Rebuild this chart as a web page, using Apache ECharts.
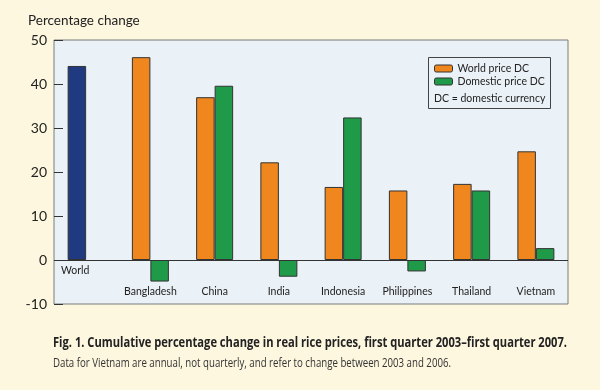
<!DOCTYPE html>
<html><head><meta charset="utf-8">
<script src="https://cdn.jsdelivr.net/npm/echarts@6/dist/echarts.min.js"></script>
<style>html,body{margin:0;padding:0;background:#fdf7df;}#c{width:600px;height:390px;}</style>
</head><body><div id="c"></div>
<script>
const categories = ['World','Bangladesh','China','India','Indonesia','Philippines','Thailand','Vietnam'];
const worldPrice = [44.1, 46.1, 37.0, 22.2, 16.6, 15.8, 17.3, 24.7];
const domesticPrice = [null, -4.9, 39.6, -3.8, 32.4, -2.6, 15.8, 2.7];
const yTicks = [-10, 0, 10, 20, 30, 40, 50];
const seriesNames = ['World price DC', 'Domestic price DC'];
const legendNote = 'DC = domestic currency';
const yAxisName = 'Percentage change';
const captionTitle = 'Fig. 1. Cumulative percentage change in real rice prices, first quarter 2003\u2013first quarter 2007.';
const captionNote = 'Data for Vietnam are annual, not quarterly, and refer to change between 2003 and 2006.';

const ORANGE = '#f0861e', GREEN = '#1f9a48', BLUE = '#1f3a80';
const labelFont = 'Lato, "Open Sans", sans-serif';
const capFont = '"Open Sans", "Noto Sans", sans-serif';

const titleFont = 'bold 15px ' + capFont;
const noteFont = '13px ' + capFont;
const ctx = document.createElement('canvas').getContext('2d');
function fitScale(text, font, target) { ctx.font = font; return target / ctx.measureText(text).width; }
const titleScale = fitScale(captionTitle, titleFont, 514);
const noteScale = fitScale(captionNote, noteFont, 398);

const chart = echarts.init(document.getElementById('c'));
chart.setOption({
  backgroundColor: '#fdf7df',
  animation: false,
  grid: { left: 54, right: 32, top: 40, bottom: 86, show: true, backgroundColor: '#eaf1f7', borderColor: '#7a7a7a', borderWidth: 1 },
  legend: {
    data: seriesNames, orient: 'vertical', left: 434, top: 63, itemWidth: 18, itemHeight: 7, itemGap: 2,
    padding: 0, textStyle: { fontFamily: labelFont, fontSize: 10.5, color: '#222' },
    itemStyle: { borderColor: '#333', borderWidth: 1 }
  },
  graphic: [
    { type: 'rect', shape: { x: 428.5, y: 57.5, width: 122, height: 51 }, style: { fill: 'none', stroke: '#444', lineWidth: 1 }, z: 10 },
    { type: 'text', x: 434, y: 93, style: { text: legendNote, font: '10.5px ' + labelFont, fill: '#222' }, z: 10 },
    { type: 'text', x: 53, y: 343, scaleX: titleScale, style: { text: captionTitle, font: titleFont, fill: '#222', textVerticalAlign: 'middle' } },
    { type: 'text', x: 53, y: 363, scaleX: noteScale, style: { text: captionNote, font: noteFont, fill: '#333', textVerticalAlign: 'middle' } }
  ],
  xAxis: {
    type: 'category', data: categories,
    axisLine: { show: false }, axisTick: { show: false },
    axisLabel: {
      inside: true, margin: 7, interval: 0, fontFamily: labelFont, fontSize: 10.5, color: '#222',
      formatter: v => v === 'World' ? '{w|' + v + '}' : v,
      rich: { w: { fontFamily: labelFont, fontSize: 10.5, color: '#222', padding: [0, 22, 21, 0] } }
    }
  },
  yAxis: {
    type: 'value', min: -10, max: 50, interval: 10,
    name: yAxisName, nameLocation: 'end', nameGap: 0,
    nameTextStyle: { fontFamily: labelFont, fontSize: 13.5, color: '#222', align: 'left', padding: [0, 0, 12, -26] },
    axisLine: { show: false },
    axisTick: { show: true, inside: true, length: 9, lineStyle: { color: '#333' } },
    splitLine: { show: false },
    axisLabel: { fontFamily: labelFont, fontSize: 14, color: '#222', margin: 7, formatter: v => yTicks.includes(v) ? String(v) : '' }
  },
  series: [
    { name: seriesNames[0], type: 'bar', barWidth: 18.5, barGap: '0%',
      data: worldPrice.map((v, i) => i === 0 ? { value: v, itemStyle: { color: BLUE } } : v),
      itemStyle: { color: ORANGE, borderColor: '#333', borderWidth: 1 },
      markLine: { silent: true, symbol: 'none', label: { show: false }, lineStyle: { color: '#333', width: 1, type: 'solid' }, data: [{ yAxis: 0 }] }
    },
    { name: seriesNames[1], type: 'bar', barWidth: 18.5, barGap: '0%',
      data: domesticPrice,
      itemStyle: { color: GREEN, borderColor: '#333', borderWidth: 1 }
    }
  ]
});
</script></body></html>
